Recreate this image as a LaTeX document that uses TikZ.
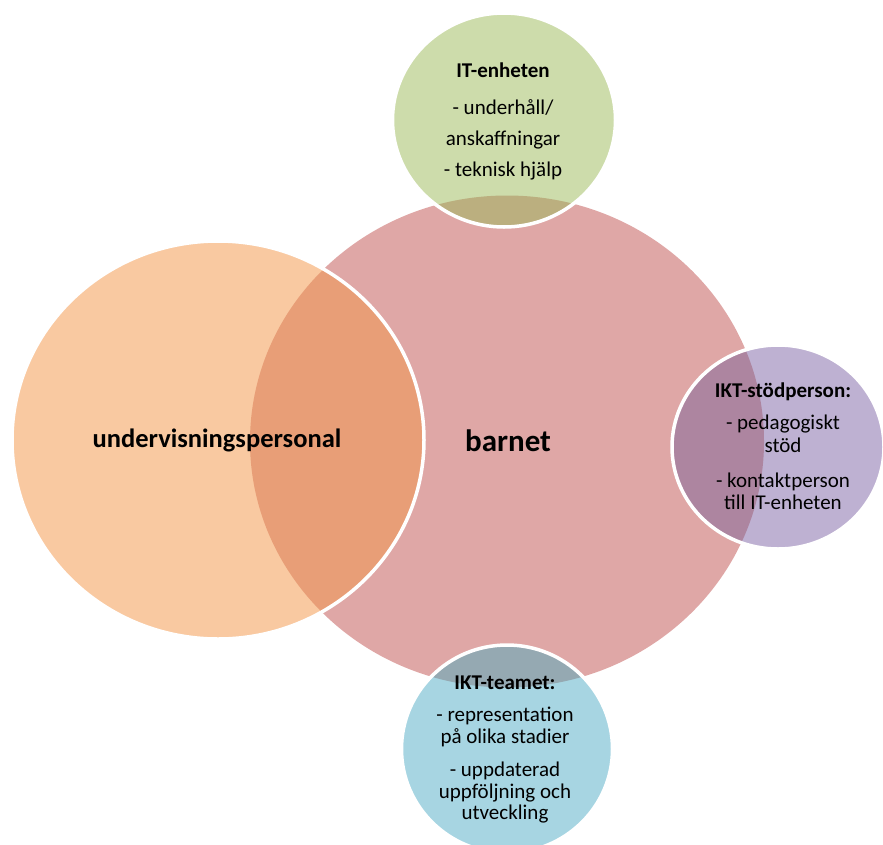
\documentclass[tikz,border=0pt]{standalone}
\usepackage{fontspec}
\setmainfont{Carlito}
\begin{document}
\begin{tikzpicture}[x=1pt,y=-1pt]
\definecolor{pinkc}{HTML}{DFA7A6}
\definecolor{orangec}{HTML}{F9C9A1}
\definecolor{orangeov}{HTML}{E89E77}
\definecolor{greenc}{HTML}{CDDCAB}
\definecolor{greenov}{HTML}{BBAF7F}
\definecolor{purplec}{HTML}{BEB1D2}
\definecolor{purpleov}{HTML}{AD85A0}
\definecolor{bluec}{HTML}{A7D5E2}
\definecolor{blueov}{HTML}{95A9B2}
\tikzset{
  rim/.style={draw=white, line width=3.5pt},
  small/.style={align=center, inner sep=0pt, font=\fontsize{21}{22.5}\selectfont},
}
\def\pinkshape{(507,441.5) ellipse [x radius=257, y radius=246]}
\useasboundingbox (0,0) rectangle (883,844);
\clip (0,0) rectangle (883,844);
% main circle
\fill[pinkc] \pinkshape;
% orange
\fill[orangec] (218,440) ellipse [x radius=206, y radius=199];
\begin{scope}
  \clip \pinkshape;
  \fill[orangeov] (218,440) ellipse [x radius=206, y radius=199];
\end{scope}
\draw[rim] (218,440) ellipse [x radius=206, y radius=199];
% green
\fill[greenc] (504,120) ellipse [x radius=111.5, y radius=107];
\begin{scope}
  \clip \pinkshape;
  \fill[greenov] (504,120) ellipse [x radius=111.5, y radius=107];
\end{scope}
\draw[rim] (504,120) ellipse [x radius=111.5, y radius=107];
% purple
\fill[purplec] (778,447) ellipse [x radius=106, y radius=102];
\begin{scope}
  \clip \pinkshape;
  \fill[purpleov] (778,447) ellipse [x radius=106, y radius=102];
\end{scope}
\draw[rim] (778,447) ellipse [x radius=106, y radius=102];
% blue
\fill[bluec] (507,749) ellipse [x radius=105.5, y radius=104];
\begin{scope}
  \clip \pinkshape;
  \fill[blueov] (507,749) ellipse [x radius=105.5, y radius=104];
\end{scope}
\draw[rim] (507,749) ellipse [x radius=105.5, y radius=104];
% texts
\node[font=\fontsize{26.5}{30}\selectfont\bfseries, inner sep=0pt] (teach) at (217,440) {undervisningspersonal};
\node[font=\fontsize{31}{34}\selectfont\bfseries, inner sep=0pt] (child) at (508,441) {barnet};
\node[small, font=\fontsize{21}{31}\selectfont] (it) at (503,121) {\textbf{IT-enheten}\\[6pt]- underhåll/\\anskaffningar\\- teknisk hjälp};
\node[small] (ikts) at (783,446.5) {\textbf{IKT-stödperson:}\\[9.5pt]- pedagogiskt\\stöd\\[12.5pt]- kontaktperson\\till IT-enheten};
\node[small, font=\fontsize{21}{21.7}\selectfont] (iktt) at (505,749.5) {\textbf{IKT-teamet:}\\[11pt]- representation\\på olika stadier\\[11pt]- uppdaterad\\uppföljning och\\utveckling};
\end{tikzpicture}
\end{document}
